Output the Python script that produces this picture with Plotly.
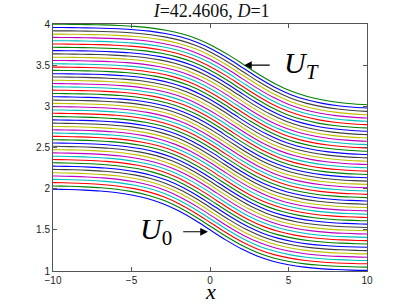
import plotly.graph_objects as go

# Base profile U_0(x) (extended past the left edge)
base_x = [-13, -12, -11, -10, -9, -8, -7, -6, -5, -4, -3, -2, -1, 0,
          1, 2, 3, 4, 5, 6, 7, 8, 9, 10]
base_u = [1.998, 1.997, 1.996, 1.993, 1.989, 1.982, 1.971, 1.953, 1.924, 1.881,
          1.818, 1.731, 1.622, 1.500, 1.378, 1.269, 1.182, 1.119, 1.076, 1.047,
          1.029, 1.018, 1.011, 1.007]

# Vertical level of each curve (U_0 ... U_T) and horizontal drift of its front
level_shift = [0.00, 0.04, 0.08, 0.12, 0.16, 0.20, 0.24, 0.28, 0.32, 0.36,
               0.40, 0.44, 0.48, 0.52, 0.56, 0.60, 0.64, 0.68, 0.72, 0.76,
               0.80, 0.84, 0.88, 0.92, 0.96, 1.00, 1.04, 1.08, 1.12, 1.16,
               1.20, 1.24, 1.28, 1.32, 1.36, 1.40, 1.44, 1.48, 1.52, 1.56,
               1.60, 1.64, 1.68, 1.72, 1.76, 1.80, 1.84, 1.88, 1.92, 1.96, 2.00]
front_shift = [0.000, 0.044, 0.088, 0.132, 0.176, 0.220, 0.264, 0.308, 0.352, 0.396,
               0.440, 0.484, 0.528, 0.572, 0.616, 0.660, 0.704, 0.748, 0.792, 0.836,
               0.880, 0.924, 0.968, 1.012, 1.056, 1.100, 1.144, 1.188, 1.232, 1.276,
               1.320, 1.364, 1.408, 1.452, 1.496, 1.540, 1.584, 1.628, 1.672, 1.716,
               1.760, 1.804, 1.848, 1.892, 1.936, 1.980, 2.024, 2.068, 2.112, 2.156, 2.200]

colors = ["#0000ff", "#008000", "#ff0000", "#00bfbf", "#bf00bf", "#bfbf00", "#404040"]

x_ticks = [-10, -5, 0, 5, 10]
y_ticks = [1, 1.5, 2, 2.5, 3, 3.5, 4]

fig = go.Figure()
for k, (dy, dx) in enumerate(zip(level_shift, front_shift)):
    fig.add_trace(go.Scatter(
        x=[v + dx for v in base_x],
        y=[u + dy for u in base_u],
        mode="lines",
        line=dict(color=colors[k % len(colors)], width=1.1, shape="spline"),
        showlegend=False, hoverinfo="skip",
    ))

serif = "Liberation Serif, DejaVu Serif, serif"
ax_color = "#555555"
common_axis = dict(showline=True, linecolor=ax_color, linewidth=1, mirror="ticks",
                   ticks="inside", ticklen=4, tickcolor=ax_color, showgrid=False,
                   zeroline=False, automargin=False,
                   tickfont=dict(family="Liberation Sans, Arial", size=10, color="#222"))

fig.update_layout(
    width=407, height=306,
    margin=dict(l=53, r=40, t=24, b=35),
    plot_bgcolor="white", paper_bgcolor="white",
    xaxis=dict(range=[-10, 10], tickvals=x_ticks, **common_axis),
    yaxis=dict(range=[1, 4], tickvals=y_ticks, **common_axis),
    title=dict(text="<i>I</i>=42.4606, <i>D</i>=1", x=0.52, xanchor="center",
               y=0.965, yanchor="middle", font=dict(family=serif, size=18, color="#111")),
)

annotations = [
    # x label
    dict(text="<i>x</i>", x=0, y=1, xref="x", yref="y", yshift=-20, showarrow=False,
         font=dict(family=serif, size=22, color="black"), yanchor="middle"),
    # U_T label and arrow
    dict(text="<i>U<sub>T</sub></i>", x=5.85, y=3.5, xref="x", yref="y", showarrow=False,
         font=dict(family=serif, size=30, color="black")),
    dict(text="", x=2.17, y=3.5, ax=3.9, ay=3.5, xref="x", yref="y", axref="x", ayref="y",
         showarrow=True, arrowhead=2, arrowsize=1.4, arrowwidth=1.1, arrowcolor="black"),
    # U_0 label and arrow
    dict(text="<i>U</i><sub>0</sub>", x=-3.45, y=1.48, xref="x", yref="y", showarrow=False,
         font=dict(family=serif, size=30, color="black")),
    dict(text="", x=-0.13, y=1.476, ax=-1.8, ay=1.476, xref="x", yref="y", axref="x", ayref="y",
         showarrow=True, arrowhead=2, arrowsize=1.4, arrowwidth=1.1, arrowcolor="black"),
]
fig.update_layout(annotations=annotations)

fig.write_html("out.html", config={"displayModeBar": False},
               post_script="document.body.style.margin='0';")
